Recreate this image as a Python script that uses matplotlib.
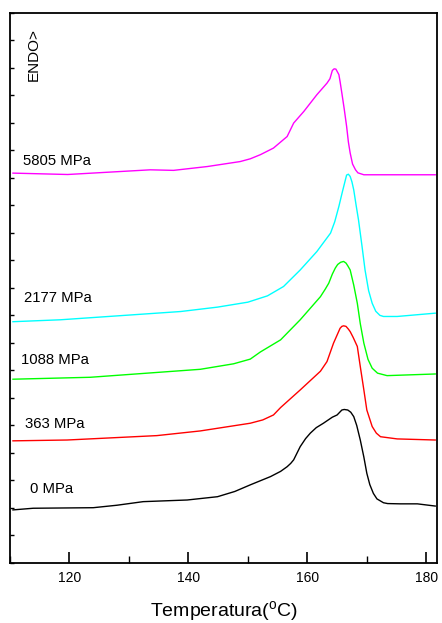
import numpy as np
import matplotlib
matplotlib.use("Agg")
import matplotlib.pyplot as plt
from matplotlib.ticker import MultipleLocator, NullFormatter

plt.rcParams['font.family'] = ['Liberation Sans', 'DejaVu Sans']
plt.rcParams['mathtext.fontset'] = 'custom'
plt.rcParams['mathtext.rm'] = 'Liberation Sans'

# DSC curves (temperature in C, heat flow in arbitrary shifted units)
t_0 = [110.5, 113.9, 124.0, 128.0, 132.4, 139.8, 144.9, 147.8, 150.4, 153.8, 155.5,
       156.6, 157.2, 157.7, 158.8, 159.7, 160.5, 161.5, 162.7, 164.2, 165.0, 165.8,
       166.2, 166.8, 167.3, 167.8, 168.3, 168.9, 169.5, 170.0, 170.5, 171.1, 171.7,
       172.8, 173.5, 175.6, 178.5, 181.5]
y_0 = [1.93, 1.99, 2.01, 2.10, 2.23, 2.29, 2.41, 2.60, 2.84, 3.14, 3.33,
       3.50, 3.62, 3.75, 4.23, 4.52, 4.72, 4.92, 5.08, 5.30, 5.38, 5.56,
       5.58, 5.56, 5.48, 5.32, 5.00, 4.47, 3.85, 3.26, 2.85, 2.53, 2.33,
       2.19, 2.16, 2.15, 2.15, 2.07]

t_363 = [110.5, 119.6, 134.7, 142.0, 150.4, 152.5, 154.3, 155.5, 158.8, 162.2, 163.3,
         164.4, 165.5, 165.8, 166.1, 166.5, 166.9, 167.2, 167.7, 168.4, 168.9, 169.5,
         170.0, 170.9, 171.6, 172.3, 175.1, 181.5]
y_363 = [4.44, 4.47, 4.63, 4.80, 5.08, 5.20, 5.38, 5.65, 6.29, 6.97, 7.32,
         7.99, 8.53, 8.60, 8.62, 8.60, 8.50, 8.41, 8.20, 7.87, 7.14, 6.29,
         5.56, 4.96, 4.72, 4.59, 4.51, 4.47]

t_1088 = [110.5, 123.5, 142.0, 147.6, 150.4, 152.1, 155.5, 158.8, 162.2, 163.0, 163.6,
          164.2, 164.7, 165.1, 165.6, 166.1, 166.5, 166.8, 167.2, 167.8, 168.4, 168.9,
          169.5, 170.2, 170.9, 171.8, 173.4, 181.5]
y_1088 = [6.68, 6.75, 7.04, 7.24, 7.41, 7.67, 8.11, 8.84, 9.68, 9.95, 10.17,
          10.50, 10.72, 10.85, 10.93, 10.96, 10.90, 10.80, 10.65, 10.10, 9.44, 8.70,
          7.99, 7.40, 7.08, 6.90, 6.81, 6.87]

t_2177 = [110.5, 118.5, 138.7, 144.9, 150.0, 153.3, 156.0, 158.8, 161.6, 163.9, 164.6,
          165.3, 165.9, 166.4, 166.6, 166.9, 167.2, 167.5, 167.8, 168.2, 168.6, 169.2,
          169.7, 170.3, 170.9, 171.5, 172.2, 172.8, 175.1, 181.5]
y_2177 = [8.77, 8.84, 9.14, 9.30, 9.48, 9.71, 10.05, 10.65, 11.32, 11.99, 12.40,
          12.96, 13.50, 13.93, 14.10, 14.13, 14.05, 13.85, 13.56, 13.00, 12.47, 11.50,
          10.65, 9.90, 9.44, 9.15, 9.00, 8.96, 8.96, 9.08]

t_5805 = [110.5, 119.7, 133.6, 137.5, 143.2, 148.7, 150.4, 152.1, 154.3, 156.6, 157.7,
          159.4, 161.6, 163.3, 163.8, 164.2, 164.5, 164.8, 165.3, 165.5, 165.8, 166.2,
          166.6, 166.9, 167.2, 167.6, 168.1, 168.5, 169.5, 181.5]
y_5805 = [14.17, 14.12, 14.29, 14.27, 14.41, 14.59, 14.69, 14.84, 15.08, 15.50, 15.99,
          16.41, 17.02, 17.44, 17.60, 17.90, 17.96, 17.95, 17.75, 17.50, 17.08, 16.50,
          15.87, 15.30, 14.90, 14.50, 14.29, 14.18, 14.11, 14.11]

series = [
    (t_0, y_0, 'black', '0 MPa', (113.3, 2.68)),
    (t_363, y_363, '#ff0000', '363 MPa', (112.6, 5.05)),
    (t_1088, y_1088, '#00ff00', '1088 MPa', (111.8, 7.36)),
    (t_2177, y_2177, '#00ffff', '2177 MPa', (112.3, 9.63)),
    (t_5805, y_5805, '#ff00ff', '5805 MPa', (112.2, 14.62)),
]

fig = plt.figure(figsize=(4.42, 6.23), dpi=100)
ax = fig.add_axes([0.0226, 0.0963, 0.9661, 0.8833])

for t, y, c, lab, pos in series:
    ax.plot(t, y, color=c, lw=1.0)
    ax.text(pos[0], pos[1], lab, fontsize=10.7, va='center', ha='left')

ax.text(113.95, 18.47, 'ENDO>', rotation=90, fontsize=11, va='center', ha='center')

ax.set_xlim(110, 181.8)
ax.set_ylim(0, 20)
ax.xaxis.set_major_locator(MultipleLocator(20))
ax.xaxis.set_minor_locator(MultipleLocator(10))
ax.yaxis.set_major_locator(MultipleLocator(1))
ax.yaxis.set_major_formatter(NullFormatter())
ax.tick_params(axis='x', which='major', direction='in', length=8, width=1.2,
               labelsize=10, pad=6, top=False)
ax.tick_params(axis='x', which='minor', direction='in', length=5, width=1.0, top=False)
ax.tick_params(axis='y', which='major', direction='in', length=3, width=1.0, right=False)
for s in ax.spines.values():
    s.set_linewidth(1.3)

ax.set_xlabel('Temperatura($^{\\mathrm{o}}$C)', fontsize=14, labelpad=10)

fig.savefig('out.png', dpi=100)
